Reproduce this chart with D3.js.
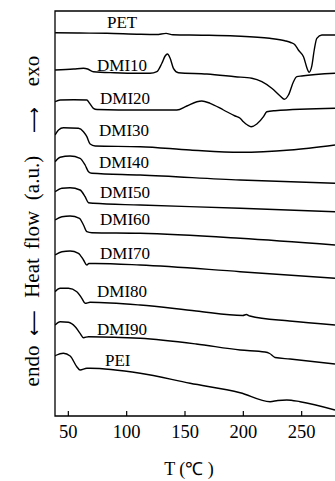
<!DOCTYPE html>
<html><head><meta charset="utf-8">
<script src="https://cdn.jsdelivr.net/npm/d3@7"></script>
<style>body{margin:0;background:#fff}svg{display:block}</style>
</head><body>
<svg id="c" width="335" height="481"></svg>
<script>
// ---- data (temperature °C, heat flow a.u.) ----
const tempTicks = [50, 100, 150, 200, 250];
const seriesNames = ["PET","DMI10","DMI20","DMI30","DMI40","DMI50","DMI60","DMI70","DMI80","DMI90","PEI"];
const PET = [[39.1,383.3],[60,383],[83.4,382.7],[112,381.7],[126,381.5],[134.2,382.6],[140,381.2],[165,380.8],[193.4,380],[223,377.7],[236,375.3],[241,373.5],[244.8,371],[247.6,366],[252,359.3],[255.6,346],[256.8,343.7],[259,349.3],[261.2,366],[263.4,377.7],[267.7,381],[279,381]];
const DMI10 = [[39.1,346],[55,347],[63.4,347.7],[67,347],[71.9,344.3],[90,343.2],[112,342.7],[120.5,342.7],[126.3,344.3],[130.6,352.7],[133.4,360],[135.4,362],[137.7,357.7],[140.5,347.7],[144.8,343.3],[169.1,342],[193.4,339.3],[207.7,337.7],[216.3,334.3],[224.8,327.7],[232,320],[235.6,316.7],[239.1,321],[243.4,334.3],[246.3,339.3],[250.5,340],[279,342.7]];
const DMI20 = [[39.1,314.3],[43.4,316],[55,316.3],[66.3,316],[68.5,313],[71.9,307.7],[75,306.5],[112,306],[143.4,306],[152,310],[160.6,314.3],[164.8,315],[172,312.7],[183.4,306],[193.4,300],[197.7,297.7],[200.5,294.3],[204,291],[207.1,289.3],[212,292],[217.7,299.3],[220.5,304.3],[227.6,305.3],[279,307.7]];
const DMI30 = [[39.1,281],[42,286],[46.2,288.3],[59.1,287.7],[63.4,284.3],[66.3,279.3],[69.1,272],[73.4,270],[112,269.3],[154.8,266],[197.7,263.7],[240.5,266],[279,271]];
const DMI40 = [[39.1,254.3],[43.4,258.7],[51.9,260],[60.5,257.7],[64.8,251],[67.7,244.3],[70.6,242.7],[112,241],[197.7,236],[279,232.7]];
const DMI50 = [[39.1,224.3],[44.9,227.7],[51.9,228.3],[60.5,226],[64.8,219.3],[67.7,213.3],[71.9,212.7],[112,211],[197.7,207.7],[279,204.3]];
const DMI60 = [[39.1,196],[44.9,199.3],[51.9,200],[60,197.7],[63.4,191],[66.3,184.3],[70.6,183.3],[112,182.7],[197.7,177.7],[279,171]];
const DMI70 = [[39.1,161],[44.9,164.3],[51.9,165],[59.1,162.7],[63.4,156],[66.3,151],[68,152.5],[73.4,152.5],[112,151],[197.7,144.3],[279,137.7]];
const DMI80 = [[39.1,124.3],[43.4,127.7],[50.5,127.7],[57.7,124.3],[62,117.7],[64.8,112.7],[69.1,113.7],[112,111],[160,105],[200,100.5],[203,101.5],[206,100],[240,95],[279,91]];
const DMI90 = [[39.1,91],[43.4,94.3],[50.5,93.7],[56.3,89.3],[60.5,82.7],[63.4,78.3],[67.7,79.3],[112,77.7],[160,72],[197.7,66],[219,64],[223,62.5],[227.6,58.5],[240.5,57],[279,52]];
const PEI = [[39.1,60],[40.5,61],[46.2,62.7],[52,60],[57.7,49.3],[60.5,46],[66.3,47.7],[69.1,47.7],[112,42.7],[154.8,32.7],[197.7,23.3],[223.4,14.3],[230,15.5],[237.7,16],[249.1,14.3],[279,6]];
const seriesValues = [PET, DMI10, DMI20, DMI30, DMI40, DMI50, DMI60, DMI70, DMI80, DMI90, PEI];
const yTitleParts = ["endo", "⟵", "Heat", "flow", "(a.u.)", "⟶", "exo"];

// ---- layout ----
const W = 335, H = 481;
const m = {left: 55, top: 11, bottom: 416};
const labelDx = [52, 42, 45, 44, 44, 45, 45, 45, 42, 42, 50];   // px from plot left
const labelGap = [5, 1.3, 6, 10, 6, 6, 8, 5, 6, 2, 3];         // px above curve
const titleCenters = [366, 323, 278, 230, 178, 120, 71];        // px, along y
const serif = "'Liberation Serif','Times New Roman',serif";

const svg = d3.select("#c");
const x = d3.scaleLinear().domain([39, 279]).range([m.left, W]);
const y = d3.scaleLinear().domain([0, 405]).range([m.bottom, m.top]);

svg.append("defs").append("clipPath").attr("id","clip")
  .append("rect").attr("x", m.left).attr("y", m.top - 2).attr("width", W - m.left).attr("height", m.bottom - m.top + 4);

// frame
svg.append("path")
  .attr("d", `M${W+5},${m.top}H${m.left}V${m.bottom}H${W+5}`)
  .attr("fill","none").attr("stroke","#000").attr("stroke-width",1.3);

// x axis ticks & labels
const xAxis = d3.axisBottom(x).tickValues(tempTicks).tickSizeInner(-5).tickSizeOuter(0).tickPadding(10);
const gx = svg.append("g").attr("transform", `translate(0,${m.bottom})`).call(xAxis);
gx.attr("font-family", null).attr("font-size", null);
gx.select(".domain").remove();
gx.selectAll(".tick line").attr("stroke","#000").attr("stroke-width",1.2);
gx.selectAll(".tick text").style("font-family", serif).style("font-size", "18.5px").attr("fill","#000")
  .attr("dy", null).attr("y", 22);

// curves
const line = d3.line().x(d => x(d[0])).y(d => y(d[1])).curve(d3.curveMonotoneX);
svg.append("g").attr("clip-path","url(#clip)")
  .selectAll("path").data(seriesValues).join("path")
  .attr("d", line).attr("fill","none").attr("stroke","#000").attr("stroke-width",1.4)
  .attr("stroke-linejoin","round");

// value at temperature (linear between read points)
function valueAt(s, t) {
  const i = d3.bisector(d => d[0]).left(s, t);
  if (i <= 0) return s[0][1];
  if (i >= s.length) return s[s.length-1][1];
  const a = s[i-1], b = s[i];
  return a[1] + (b[1]-a[1]) * (t - a[0]) / (b[0] - a[0]);
}
const labelT = 78;
svg.append("g").selectAll("text").data(seriesNames).join("text")
  .attr("x", (d,i) => m.left + labelDx[i])
  .attr("y", (d,i) => y(valueAt(seriesValues[i], labelT)) - labelGap[i])
  .style("font-family", serif).style("font-size", "17px").attr("fill","#000")
  .text(d => d);

// axis titles
svg.append("text").attr("x", 189).attr("y", 475).attr("text-anchor","middle")
  .style("font-family", serif).style("font-size", "18px").attr("fill","#000").text("T (℃ )");
const yt = svg.append("g");
yTitleParts.forEach((p, i) => {
  const isArrow = p === "⟵" || p === "⟶";
  yt.append("text")
    .attr("transform", `translate(${isArrow ? 39.5 : 38.5},${titleCenters[i]}) rotate(-90)`)
    .attr("text-anchor","middle")
    .style("font-family", isArrow ? "'DejaVu Sans'," + serif : serif)
    .style("font-size", isArrow ? "18px" : "21px").attr("fill","#000")
    .text(p);
});
</script>
</body></html>
